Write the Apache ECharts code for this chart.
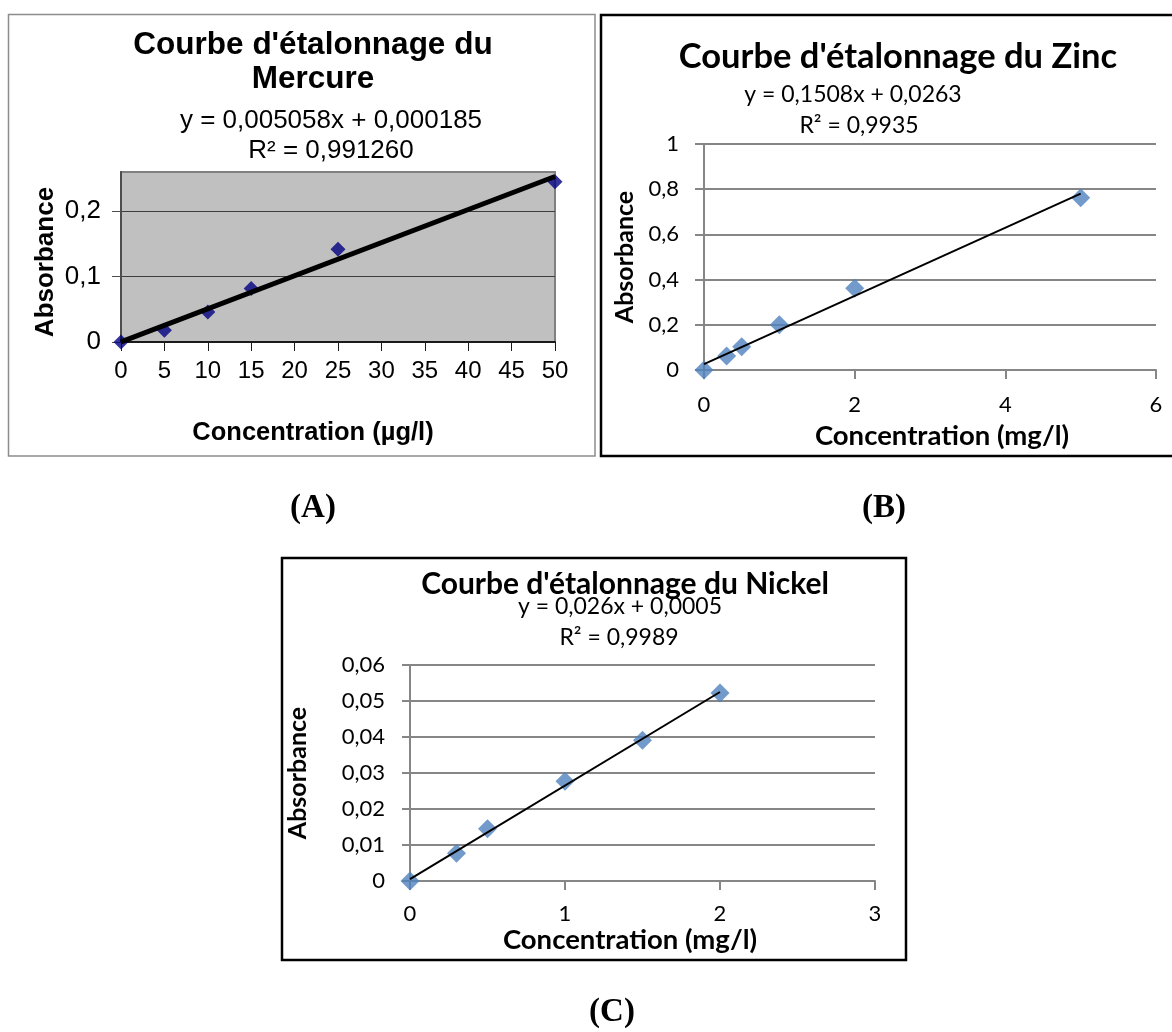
<!DOCTYPE html>
<html>
<head>
<meta charset="utf-8">
<script src="https://cdn.jsdelivr.net/npm/echarts@6/dist/echarts.min.js"></script>
<style>
  html, body { margin: 0; padding: 0; background: #fff; }
  #chart { width: 1172px; height: 1032px; }
</style>
</head>
<body>
<div id="chart"></div>
<script>
// Mercure: concentration (µg/l) vs absorbance
const hgConc = [0, 5, 10, 15, 25, 50];
const hgAbs = [0, 0.018, 0.046, 0.082, 0.142, 0.245];
const hgSlope = 0.005058, hgIntercept = 0.000185, hgR2 = 0.99126;

// Zinc: concentration (mg/l) vs absorbance
const znConc = [0, 0.3, 0.5, 1, 2, 5];
const znAbs = [0, 0.062, 0.103, 0.2, 0.362, 0.762];
const znSlope = 0.1508, znIntercept = 0.0263, znR2 = 0.9935;

// Nickel: concentration (mg/l) vs absorbance
const niConc = [0, 0.3, 0.5, 1, 1.5, 2];
const niAbs = [0, 0.0077, 0.0145, 0.0277, 0.0391, 0.0522];
const niSlope = 0.026, niIntercept = 0.0005, niR2 = 0.9989;

// Axis ranges
const hgXAxis = { min: 0, max: 50, step: 5 };
const hgYAxis = { min: 0, max: 0.26, step: 0.1 };
const hgYLabels = [0, 0.1, 0.2];
const znXAxis = { min: 0, max: 6, step: 2 };
const znYAxis = { min: 0, max: 1, step: 0.2 };
const niXAxis = { min: 0, max: 3, step: 1 };
const niYAxis = { min: 0, max: 0.06, step: 0.01 };

const ARIAL = "'Liberation Sans', Arial, sans-serif";
const CALI = "Lato, 'Open Sans', sans-serif";
const TIMES = "'Liberation Serif', 'Times New Roman', serif";

// French decimal comma
const fr = (v, d) => (d === undefined ? String(+(+v).toFixed(6)) : (+v).toFixed(d)).replace('.', ',');
const eq = (s, b, ds, db) => 'y = ' + fr(s, ds) + 'x + ' + fr(b, db);
const zip = (xs, ys) => xs.map((x, i) => [x, ys[i]]);
const fit = (s, b, x0, x1) => [[x0, s * x0 + b], [x1, s * x1 + b]];

function txt(x, y, text, font, extra) {
  return {
    type: 'text', x: x, y: y, silent: true,
    style: Object.assign({
      text: text, font: font, fill: '#000',
      align: 'center', textAlign: 'center',
      verticalAlign: 'middle', textVerticalAlign: 'middle'
    }, extra || {})
  };
}

const chart = echarts.init(document.getElementById('chart'), null, { renderer: 'canvas' });

const option = {
  animation: false,
  backgroundColor: '#ffffff',
  grid: [
    { left: 121, top: 172, width: 434, height: 170, show: true,
      backgroundColor: '#c0c0c0', borderColor: '#808080', borderWidth: 2 },
    { left: 704, top: 144, width: 452, height: 226 },
    { left: 410, top: 665, width: 465, height: 216 }
  ],
  xAxis: [
    { type: 'value', gridIndex: 0, min: hgXAxis.min, max: hgXAxis.max, interval: hgXAxis.step,
      axisLine: { show: true, lineStyle: { color: '#1a1a1a', width: 2 } },
      axisTick: { show: true, inside: false, length: 9, lineStyle: { color: '#1a1a1a', width: 1 } },
      splitLine: { show: false },
      axisLabel: { fontFamily: ARIAL, fontSize: 24, color: '#000', margin: 17, formatter: v => fr(v) } },
    { type: 'value', gridIndex: 1, min: znXAxis.min, max: znXAxis.max, interval: znXAxis.step,
      axisLine: { show: true, lineStyle: { color: '#868686', width: 2 } },
      axisTick: { show: true, inside: false, length: 9, lineStyle: { color: '#868686', width: 2 } },
      splitLine: { show: false },
      axisLabel: { fontFamily: CALI, fontSize: 22, color: '#000', margin: 24, formatter: v => fr(v) } },
    { type: 'value', gridIndex: 2, min: niXAxis.min, max: niXAxis.max, interval: niXAxis.step,
      axisLine: { show: true, lineStyle: { color: '#868686', width: 2 } },
      axisTick: { show: true, inside: false, length: 9, lineStyle: { color: '#868686', width: 2 } },
      splitLine: { show: false },
      axisLabel: { fontFamily: CALI, fontSize: 22, color: '#000', margin: 22, formatter: v => fr(v) } }
  ],
  yAxis: [
    { type: 'value', gridIndex: 0, min: hgYAxis.min, max: hgYAxis.max, interval: hgYAxis.step,
      axisLine: { show: true, lineStyle: { color: '#4d4d4d', width: 2 } },
      axisTick: { show: true, inside: false, length: 9, customValues: hgYLabels,
        lineStyle: { color: '#4d4d4d', width: 1 } },
      splitLine: { show: true, lineStyle: { color: '#3c3c3c', width: 1 } },
      axisLabel: { fontFamily: ARIAL, fontSize: 26, color: '#000', margin: 20,
        customValues: hgYLabels, formatter: v => fr(v) },
      name: 'Absorbance', nameLocation: 'middle', nameGap: 62, nameRotate: 90,
      nameTextStyle: { fontFamily: ARIAL, fontWeight: 'bold', fontSize: 26, color: '#000',
        padding: [0, 10, 0, 0] } },
    { type: 'value', gridIndex: 1, min: znYAxis.min, max: znYAxis.max, interval: znYAxis.step,
      axisLine: { show: true, lineStyle: { color: '#868686', width: 2 } },
      axisTick: { show: true, inside: false, length: 9, lineStyle: { color: '#868686', width: 2 } },
      splitLine: { show: true, lineStyle: { color: '#868686', width: 2 } },
      axisLabel: { fontFamily: CALI, fontSize: 22, color: '#000', margin: 25, formatter: v => fr(v) },
      name: 'Absorbance', nameLocation: 'middle', nameGap: 67, nameRotate: 90,
      nameTextStyle: { fontFamily: CALI, fontWeight: 'bold', fontSize: 25, color: '#000' } },
    { type: 'value', gridIndex: 2, min: niYAxis.min, max: niYAxis.max, interval: niYAxis.step,
      axisLine: { show: true, lineStyle: { color: '#868686', width: 2 } },
      axisTick: { show: true, inside: false, length: 8, lineStyle: { color: '#868686', width: 2 } },
      splitLine: { show: true, lineStyle: { color: '#868686', width: 2 } },
      axisLabel: { fontFamily: CALI, fontSize: 22, color: '#000', margin: 25, formatter: v => fr(v) },
      name: 'Absorbance', nameLocation: 'middle', nameGap: 100, nameRotate: 90,
      nameTextStyle: { fontFamily: CALI, fontWeight: 'bold', fontSize: 25, color: '#000' } }
  ],
  series: [
    { type: 'scatter', xAxisIndex: 0, yAxisIndex: 0, data: zip(hgConc, hgAbs),
      symbol: 'diamond', symbolSize: 15, itemStyle: { color: '#000080' }, z: 3 },
    { type: 'line', xAxisIndex: 0, yAxisIndex: 0, data: fit(hgSlope, hgIntercept, 0, 50),
      showSymbol: false, symbol: 'none', lineStyle: { color: '#000', width: 5 }, z: 4 },

    { type: 'scatter', xAxisIndex: 1, yAxisIndex: 1, data: zip(znConc, znAbs),
      symbol: 'diamond', symbolSize: 19, itemStyle: { color: '#4f81bd' }, z: 3 },
    { type: 'line', xAxisIndex: 1, yAxisIndex: 1, data: fit(znSlope, znIntercept, 0, 5),
      showSymbol: false, symbol: 'none', lineStyle: { color: '#000', width: 2 }, z: 4 },

    { type: 'scatter', xAxisIndex: 2, yAxisIndex: 2, data: zip(niConc, niAbs),
      symbol: 'diamond', symbolSize: 19, itemStyle: { color: '#4f81bd' }, z: 3 },
    { type: 'line', xAxisIndex: 2, yAxisIndex: 2, data: fit(niSlope, niIntercept, 0, 2),
      showSymbol: false, symbol: 'none', lineStyle: { color: '#000', width: 2 }, z: 4 }
  ],
  graphic: [
    // chart frames
    { type: 'rect', silent: true, shape: { x: 8.5, y: 14.5, width: 586.5, height: 441.5 },
      style: { fill: 'none', stroke: '#8c8c8c', lineWidth: 1.5 } },
    { type: 'rect', silent: true, shape: { x: 601, y: 15, width: 620, height: 441 },
      style: { fill: 'none', stroke: '#000', lineWidth: 2.5 } },
    { type: 'rect', silent: true, shape: { x: 282, y: 558, width: 624, height: 402 },
      style: { fill: 'none', stroke: '#000', lineWidth: 2.5 } },

    // Mercure
    txt(313, 45, "Courbe d'étalonnage du", 'bold 31.5px ' + ARIAL),
    txt(313, 79, 'Mercure', 'bold 31.5px ' + ARIAL),
    txt(331, 121, eq(hgSlope, hgIntercept, 6, 6), '26px ' + ARIAL),
    txt(331, 151, 'R² = ' + fr(hgR2, 6), '26px ' + ARIAL),
    txt(313, 433, 'Concentration (µg/l)', 'bold 25.5px ' + ARIAL),

    // Zinc
    txt(898, 57, "Courbe d'étalonnage du Zinc", 'bold 34.5px ' + CALI),
    txt(853, 95, eq(znSlope, znIntercept, 4, 4), '23px ' + CALI),
    txt(859, 126, 'R² = ' + fr(znR2, 4), '23px ' + CALI),
    txt(942, 436, 'Concentration (mg/l)', 'bold 27.5px ' + CALI),

    // Nickel
    txt(625, 584, "Courbe d'étalonnage du Nickel", 'bold 30px ' + CALI),
    txt(620, 607, eq(niSlope, niIntercept, 3, 4), '23px ' + CALI),
    txt(619, 638, 'R² = ' + fr(niR2, 4), '23px ' + CALI),
    txt(630, 940, 'Concentration (mg/l)', 'bold 27.5px ' + CALI),

    // panel captions
    txt(313, 508, '(A)', 'bold 33px ' + TIMES),
    txt(884, 508, '(B)', 'bold 33px ' + TIMES),
    txt(612, 1012, '(C)', 'bold 33px ' + TIMES)
  ]
};

chart.setOption(option);
</script>
</body>
</html>
